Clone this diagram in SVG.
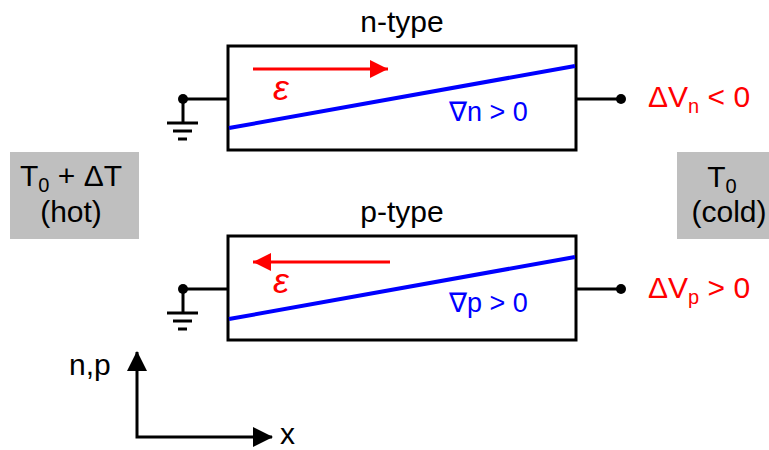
<svg xmlns="http://www.w3.org/2000/svg" width="769" height="450" viewBox="0 0 769 450">
<style>
text{font-family:"Liberation Sans",Arial,sans-serif;font-size:30px;fill:#000}
.box{fill:#fff;stroke:#000;stroke-width:3}
.grad{stroke:#0000FF;stroke-width:4;fill:none}
.wire{stroke:#000;stroke-width:3;fill:none}
.red{fill:#FF0000}
.blue{fill:#0000FF;font-size:27px}
.eps{fill:#FF0000;font-style:italic;font-size:36px}
.temp{fill:#BFBFBF}
.sub{font-size:20px}
</style>
<defs>
<marker id="redhead" viewBox="0 0 18 18" refX="18" refY="9" markerWidth="18" markerHeight="18" markerUnits="userSpaceOnUse" orient="auto"><path d="M0,0 L18,9 L0,18 Z" fill="#FF0000"/></marker>
<g id="ground-sym">
<line x1="0" y1="0" x2="0" y2="23" class="wire"/>
<line x1="-16" y1="24" x2="15" y2="24" class="wire"/>
<line x1="-10" y1="32" x2="9" y2="32" class="wire"/>
<line x1="-5" y1="40" x2="4" y2="40" class="wire"/>
</g>
</defs>
<g id="connectors">
<line x1="183" y1="99" x2="228" y2="99" class="wire"/>
<line x1="576" y1="99" x2="621" y2="99" class="wire"/>
<line x1="183" y1="289" x2="228" y2="289" class="wire"/>
<line x1="576" y1="289" x2="621" y2="289" class="wire"/>
<circle cx="183" cy="99" r="5" fill="#000"/>
<circle cx="621" cy="99" r="5" fill="#000"/>
<circle cx="183" cy="289" r="5" fill="#000"/>
<circle cx="621" cy="289" r="5" fill="#000"/>
<use href="#ground-sym" x="183" y="99"/>
<use href="#ground-sym" x="183" y="289"/>
</g>
<g id="n-type">
<text x="402" y="32" text-anchor="middle">n-type</text>
<rect x="228" y="46" width="348" height="104" class="box"/>
<line x1="253" y1="69" x2="388" y2="69" stroke="#FF0000" stroke-width="3" marker-end="url(#redhead)"/>
<text x="273" y="100" class="eps">ε</text>
<line x1="229" y1="128" x2="575" y2="66" class="grad"/>
<text x="449" y="121" class="blue">∇n &gt; 0</text>
</g>
<g id="p-type">
<text x="402" y="222" text-anchor="middle">p-type</text>
<rect x="228" y="236" width="348" height="104" class="box"/>
<line x1="390" y1="262" x2="253" y2="262" stroke="#FF0000" stroke-width="3" marker-end="url(#redhead)"/>
<text x="273" y="293" class="eps">ε</text>
<line x1="229" y1="319" x2="575" y2="257" class="grad"/>
<text x="449" y="312" class="blue">∇p &gt; 0</text>
</g>
<g id="dVn">
<text x="648" y="107" class="red">ΔV<tspan class="sub" dy="6">n</tspan><tspan dy="-6"> &lt; 0</tspan></text>
</g>
<g id="dVp">
<text x="648" y="298" class="red">ΔV<tspan class="sub" dy="6">p</tspan><tspan dy="-6"> &gt; 0</tspan></text>
</g>
<g id="hot">
<rect x="10" y="152" width="129" height="87" class="temp"/>
<text x="71" y="186" text-anchor="middle">T<tspan class="sub" dy="6">0</tspan><tspan dy="-6"> + ΔT</tspan></text>
<text x="71" y="222" text-anchor="middle">(hot)</text>
</g>
<g id="cold">
<rect x="677" y="152" width="92" height="87" class="temp"/>
<text x="722" y="187" text-anchor="middle">T<tspan class="sub" dy="6">0</tspan></text>
<text x="729" y="222" text-anchor="middle">(cold)</text>
</g>
<g id="axes">
<polyline points="137,352 137,437 272,437" class="wire" stroke-linejoin="miter"/>
<path d="M137,351 L127,371 L147,371 Z" fill="#000"/>
<path d="M273,437 L253,427 L253,447 Z" fill="#000"/>
<text x="69" y="375">n,p</text>
<text x="280" y="444">x</text>
</g>
</svg>
